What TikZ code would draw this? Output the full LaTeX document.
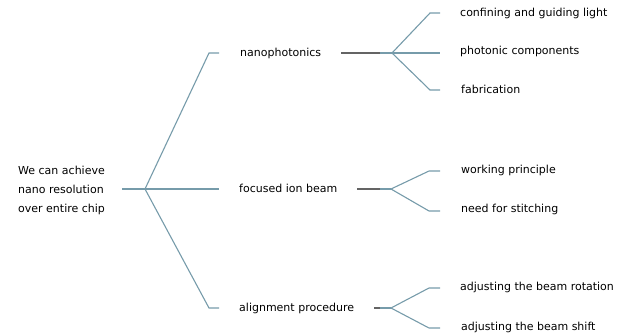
\documentclass[tikz,border=0pt]{standalone}
\usepackage{fontspec}
\setmainfont{DejaVu Sans}
\definecolor{brc}{RGB}{118,155,170}
\definecolor{stem}{RGB}{100,100,100}
\begin{document}
\begin{tikzpicture}[x=1pt,y=-1pt,
  lbl/.style={anchor=west,inner sep=0pt,font=\fontsize{11}{19}\selectfont,text height=.8em,text depth=.1em},
  br/.style={draw=brc,line width=1.1pt},
  stm/.style={draw=stem,line width=1.1pt}]
\useasboundingbox (0,0) rectangle (632,335);
% root
\node[lbl,align=left,text height=,text depth=] (root) at (18,190) {We can achieve\\nano resolution\\over entire chip};
\coordinate (j0) at (145,189);
\draw[br] ([xshift=17pt]root.east |- j0) -- (j0);
% level 1
\node[lbl] (n1) at (240,53) {nanophotonics};
\node[lbl] (n2) at (239,189) {focused ion beam};
\node[lbl] (n3) at (239,308) {alignment procedure};
\draw[br] (j0) -- (209,53) -- ([xshift=-21pt]n1.west);
\draw[br] (j0) -- ([xshift=-20pt]n2.west);
\draw[br] (j0) -- (209,308) -- ([xshift=-20pt]n3.west);
% junctions
\coordinate (k1) at (392,53);
\coordinate (k2) at (391,189);
\coordinate (k3) at (391,308);
\draw[stm] ([xshift=20pt]n1.east) -- (380,53);
\draw[br] (380,53) -- (k1);
\draw[stm] ([xshift=20pt]n2.east) -- (380,189);
\draw[br] (380,189) -- (k2);
\draw[stm] ([xshift=20pt]n3.east) -- (380,308);
\draw[br] (380,308) -- (k3);
% leaves
\node[lbl] (a1) at (460,13) {confining and guiding light};
\node[lbl] (a2) at (460,51) {photonic components};
\node[lbl] (a3) at (461,90) {fabrication};
\node[lbl] (b1) at (461,170) {working principle};
\node[lbl] (b2) at (461,209) {need for stitching};
\node[lbl] (c1) at (460,287) {adjusting the beam rotation};
\node[lbl] (c2) at (461,327) {adjusting the beam shift};
\draw[br] (k1) -- (430,13) -- (440,13);
\draw[br] (k1) -- (440,53);
\draw[br] (k1) -- (430,90) -- (440,90);
\draw[br] (k2) -- (429,171) -- (440,171);
\draw[br] (k2) -- (429,211) -- (440,211);
\draw[br] (k3) -- (429,288) -- (440,288);
\draw[br] (k3) -- (429,328) -- (440,328);
\end{tikzpicture}
\end{document}
